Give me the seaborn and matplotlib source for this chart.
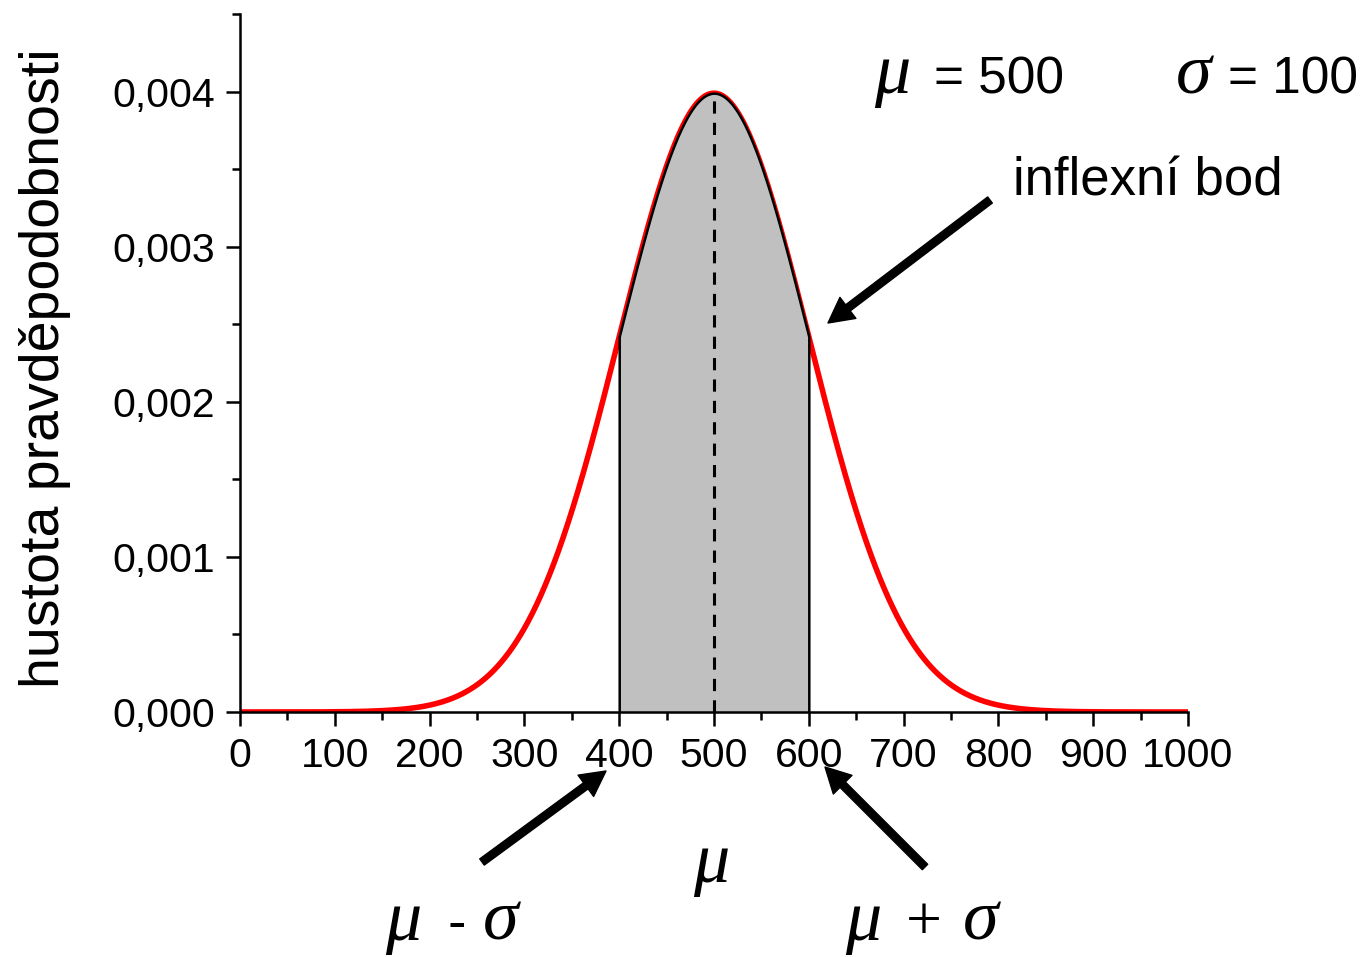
import numpy as np
import pandas as pd
import matplotlib
matplotlib.use("Agg")
import matplotlib.pyplot as plt
from matplotlib.ticker import MultipleLocator
import seaborn as sns

# ---- data ----
MU = 500
SIGMA = 100
X_RANGE = [0, 1000]
SHADE_RANGE = [400, 600]          # mu - sigma .. mu + sigma
X_TICKS = [0, 100, 200, 300, 400, 500, 600, 700, 800, 900, 1000]
X_TICK_LABELS = ["0", "100", "200", "300", "400", "500", "600", "700", "800", "900", "1000"]
Y_TICKS = [0.000, 0.001, 0.002, 0.003, 0.004]
Y_TICK_LABELS = ["0,000", "0,001", "0,002", "0,003", "0,004"]
Y_LABEL = "hustota pravděpodobnosti"

W, H = 1369, 957

sns.set_style("ticks")
plt.rcParams["font.family"] = ["Liberation Sans", "DejaVu Sans"]


def pdf(x):
    return np.exp(-0.5 * ((x - MU) / SIGMA) ** 2) / (SIGMA * np.sqrt(2 * np.pi))


x = np.linspace(X_RANGE[0], X_RANGE[1], 2001)
df = pd.DataFrame({"x": x, "y": pdf(x)})

fig = plt.figure(figsize=(W / 100, H / 100), dpi=100)
ax = fig.add_axes([240 / W, 245 / H, 948 / W, 698 / H])

sns.lineplot(data=df, x="x", y="y", color="red", lw=4.0, ax=ax, zorder=2)

xs = np.linspace(SHADE_RANGE[0], SHADE_RANGE[1], 401)
ax.fill_between(xs, 0, pdf(xs), facecolor="#C0C0C0", edgecolor="black",
                lw=1.8, zorder=3)
ax.plot([MU, MU], [0, pdf(MU)], color="black", lw=2.2, dashes=(4, 3), zorder=4)

ax.set_xlim(*X_RANGE)
ax.set_ylim(0, 0.0045)
ax.set_xticks(X_TICKS)
ax.set_xticklabels(X_TICK_LABELS)
ax.set_yticks(Y_TICKS)
ax.set_yticklabels(Y_TICK_LABELS)
ax.xaxis.set_minor_locator(MultipleLocator(50))
ax.yaxis.set_minor_locator(MultipleLocator(0.0005))
ax.tick_params(which="major", direction="out", length=10, width=1.8,
               labelsize=29.5, color="black", labelcolor="black")
ax.tick_params(axis="x", which="major", pad=8)
ax.tick_params(axis="y", which="major", pad=8)
ax.tick_params(which="minor", direction="out", length=5.5, width=1.8, color="black")
ax.set_xlabel("")
ax.set_ylabel("")
for s in ["top", "right"]:
    ax.spines[s].set_visible(False)
for s in ["left", "bottom"]:
    ax.spines[s].set_linewidth(1.8)
    ax.spines[s].set_color("black")


def fp(px, py):
    return (px / W, 1 - py / H)


# y label
fig.text(*fp(45, 368), Y_LABEL, rotation=90, ha="center", va="center",
         fontsize=40, color="black")

greek = dict(family=["Liberation Serif", "DejaVu Serif"], style="italic", color="black")
GS = 52

# parameters at top
fig.text(*fp(874, 93), "μ", fontsize=GS, ha="left", va="baseline", **greek)
fig.text(*fp(934, 93), "= 500", fontsize=37, ha="left", va="baseline", color="black")
fig.text(*fp(1176, 93), "σ", fontsize=GS, ha="left", va="baseline", **greek)
fig.text(*fp(1228, 93), "= 100", fontsize=37, ha="left", va="baseline", color="black")

fig.text(*fp(1013, 196), "inflexní bod", fontsize=38, ha="left", va="baseline", color="black")

# bottom labels
fig.text(*fp(711, 882), "μ", fontsize=GS, ha="center", va="baseline", **greek)
fig.text(*fp(385, 940), "μ", fontsize=GS, ha="left", va="baseline", **greek)
fig.text(*fp(447, 940), "-", fontsize=40, ha="left", va="baseline", color="black")
fig.text(*fp(483, 940), "σ", fontsize=GS, ha="left", va="baseline", **greek)
fig.text(*fp(845, 940), "μ", fontsize=GS, ha="left", va="baseline", **greek)
fig.text(*fp(906, 940), "+", fontsize=46, ha="left", va="baseline",
         family=["Liberation Serif", "DejaVu Serif"], color="black")
fig.text(*fp(963, 940), "σ", fontsize=GS, ha="left", va="baseline", **greek)

# arrows
arrow_kw = dict(facecolor="black", edgecolor="black", width=5.5, headwidth=19,
                headlength=18, shrink=0)
for tail, tip in [((990, 200), (828, 323)),
                  ((482, 862), (606, 771)),
                  ((925, 867), (825, 767))]:
    ax.annotate("", xy=(tip[0], H - tip[1]), xycoords="figure pixels",
                xytext=(tail[0], H - tail[1]), textcoords="figure pixels",
                arrowprops=arrow_kw, annotation_clip=False)

fig.savefig("out.png", dpi=100)
